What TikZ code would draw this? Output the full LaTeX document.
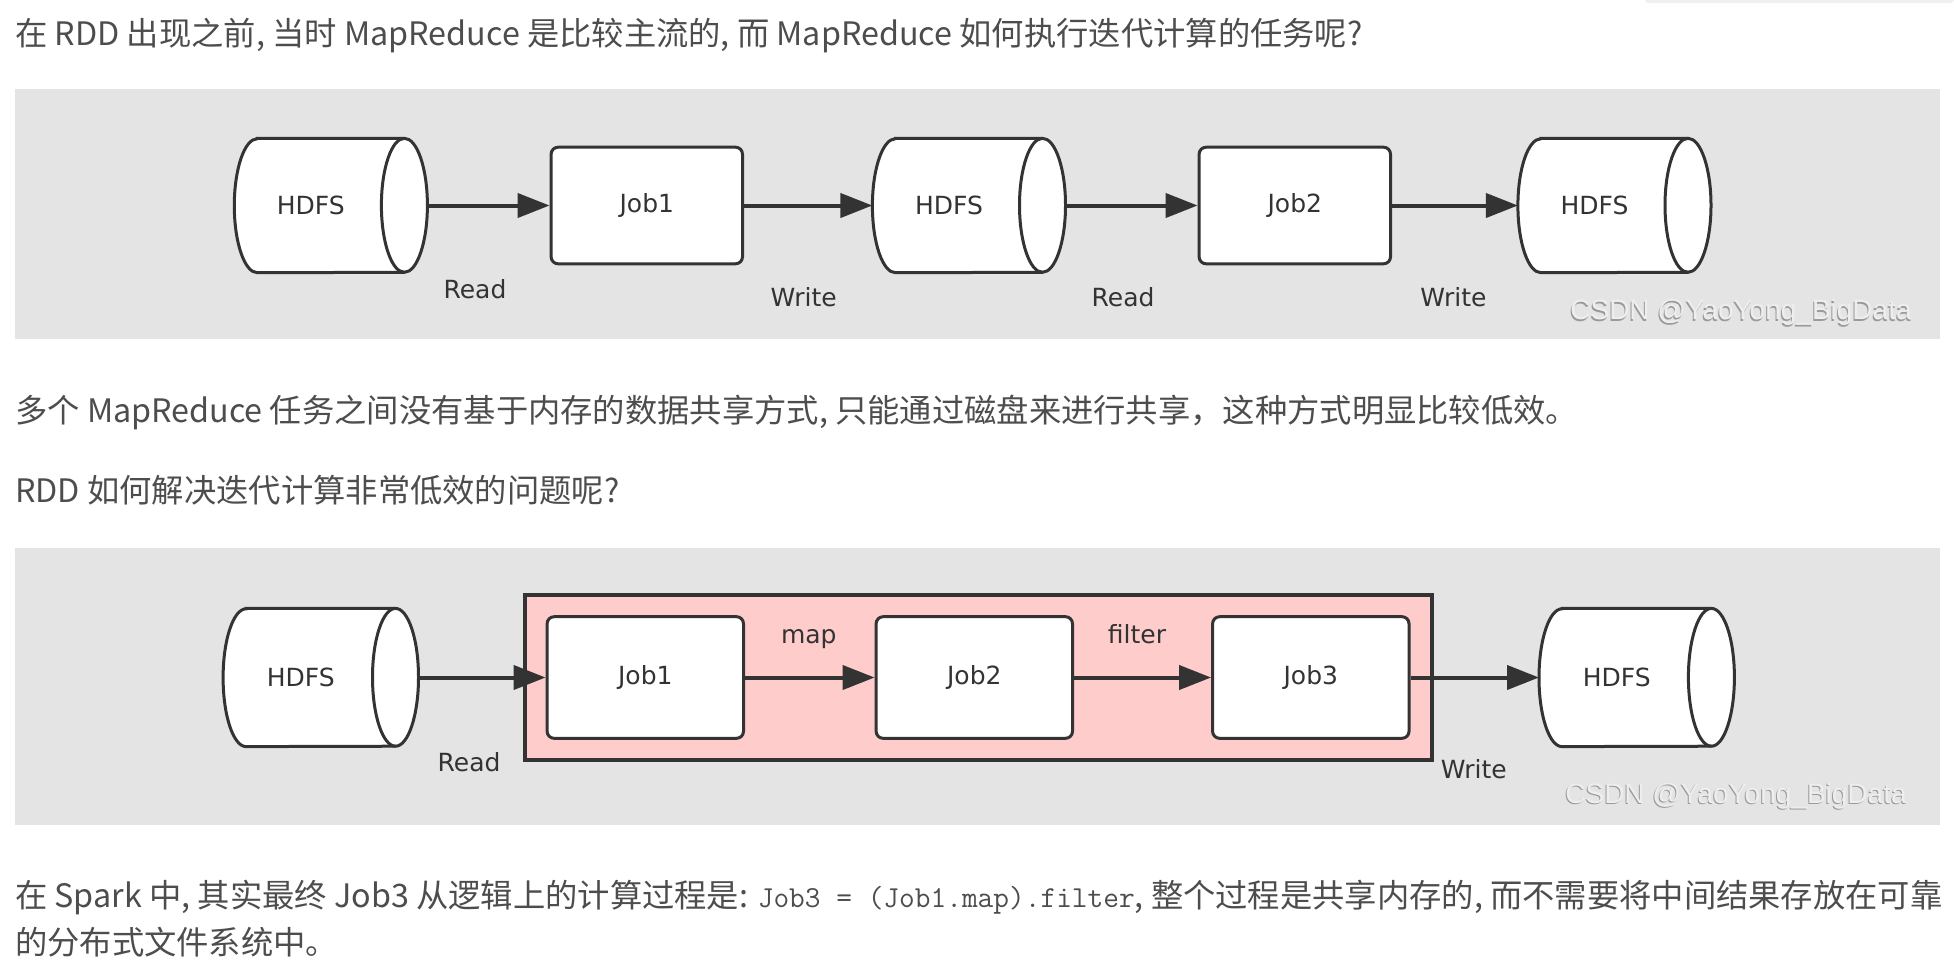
\documentclass[tikz,border=0pt]{standalone}
\usepackage{fontspec}
\setmainfont{Noto Sans CJK SC}
\newfontfamily\diagfont{DejaVu Sans}
\newfontfamily\markfont{Liberation Sans}
\usetikzlibrary{calc,positioning,backgrounds,fit,arrows.meta}

\definecolor{panelgray}{HTML}{E4E4E4}
\definecolor{pinkfill}{HTML}{FFCCCC}
\definecolor{inkgray}{HTML}{333333}
\definecolor{bodytext}{HTML}{4D4D4D}
\definecolor{marklight}{HTML}{EEEEEE}
\definecolor{markdark}{HTML}{9A9A9A}

\begin{document}
\begin{tikzpicture}[
      x=1pt, y=-1pt,
      >={Triangle[length=32pt,width=24pt]},
      bodyline/.style={anchor=base west, inner sep=0pt, text=bodytext,
        font=\fontsize{32.3}{40}\selectfont},
      disk/.style={rectangle, inner sep=0pt, text=inkgray,
        font=\diagfont\fontsize{25}{30}\selectfont,
        minimum width=192.7pt, minimum height=134pt,
        execute at end node={\hspace*{40pt}}},
      diskline/.style={draw=inkgray, line width=3pt},
      job/.style={rectangle, rounded corners=7pt, draw=inkgray, line width=3pt, fill=white,
        text=inkgray, font=\diagfont\fontsize{25}{30}\selectfont,
        minimum width=191.4pt, minimum height=116.6pt},
      flow/.style={draw=inkgray, line width=4pt},
      lbl/.style={inner sep=0pt, text=inkgray, text height=18pt, text depth=0pt,
        font=\diagfont\fontsize{25}{30}\selectfont},
      watermark/.style={anchor=base, inner sep=0pt, font=\markfont\fontsize{28}{34}\selectfont},
      panel/.style={fill=panelgray}
    ]
      \useasboundingbox (0,0) rectangle (1954,978);
      \fill[black!6, rounded corners=3pt] (1645,-6) rectangle (1954,3);

      % text above and between the figures
      \node[bodyline] (lineA) at (15,45) {在 RDD 出现之前, 当时 MapReduce 是比较主流的, 而 MapReduce 如何执行迭代计算的任务呢?};
      \node[bodyline] (lineB) at (15,422.5) {多个 MapReduce 任务之间没有基于内存的数据共享方式, 只能通过磁盘来进行共享，这种方式明显比较低效。};
      \node[bodyline] (lineC) at (15,502.5) {RDD 如何解决迭代计算非常低效的问题呢?};
      \node[bodyline] (lineD) at (15,907.5) {在 Spark 中, 其实最终 Job3 从逻辑上的计算过程是: {\ttfamily\fontsize{30.5}{40}\selectfont Job3 = (Job1.map).filter}, 整个过程是共享内存的, 而不需要将中间结果存放在可靠};
      \node[bodyline] (lineE) at (15,954.5) {的分布式文件系统中。};

      % MapReduce
      \node[disk, anchor=west] (hdfsA) at (234.3,205.5) {HDFS};
      \node[job, right=122.2pt of hdfsA] (jobA) {Job1}
        edge [<-, flow] node[lbl, xshift=-13.5pt, yshift=-83.5pt] {Read} (hdfsA);
      \node[disk, right=128.4pt of jobA] (hdfsB) {HDFS}
        edge [<-, flow] node[lbl, xshift=-4.5pt, yshift=-91.5pt] {Write} (jobA);
      \node[job, right=132.1pt of hdfsB] (jobB) {Job2}
        edge [<-, flow] node[lbl, xshift=-8.5pt, yshift=-91.5pt] {Read} (hdfsB);
      \node[disk, right=125.9pt of jobB] (hdfsC) {HDFS}
        edge [<-, flow] node[lbl, xshift=-1.5pt, yshift=-91.5pt] {Write} (jobB);

      % RDD
      \begin{scope}[disk/.append style={minimum width=195pt, minimum height=137.8pt},
                    job/.append style={minimum width=196.4pt, minimum height=121.6pt}]
        \node[disk, anchor=west] (hdfsD) at (223.1,677.5) {HDFS};
        \node[job, right=127.1pt of hdfsD] (jobC) {Job1}
          edge [<-, flow] node[lbl, xshift=-13pt, yshift=-85pt] {Read} (hdfsD);
        \node[job, right=129.6pt of jobC] (jobD) {Job2}
          edge [<-, flow] node[lbl, xshift=-1pt, yshift=43pt] {map} (jobC);
        \node[job, right=137.1pt of jobD] (jobE) {Job3}
          edge [<-, flow] node[lbl, xshift=-5.5pt, yshift=43pt] {filter} (jobD);
        \node[disk, right=128.5pt of jobE] (hdfsE) {HDFS}
          edge [<-, flow] node[lbl, xshift=-1pt, yshift=-92pt] {Write} (jobE);
      \end{scope}

      \foreach \wx/\wy [count=\i] in {1741/319.5, 1736/803} {
        \node[watermark, text=markdark] (shadow\i) at (\wx-1,\wy+1.5) {CSDN @YaoYong\_BigData};
        \node[watermark, text=marklight] (mark\i) at (\wx,\wy) {CSDN @YaoYong\_BigData};
      }

      \begin{scope}[on background layer]
        \fill[panel] (15,88.5) rectangle (1940,339);
        \fill[panel] (15,548) rectangle (1940,825);
        \node[draw=inkgray, line width=4pt, fill=pinkfill, inner xsep=21pt, inner ysep=20pt,
          fit=(jobC) (jobE)] (memory) {};
        % the disks: body, then the near end
        \foreach \d/\ry in {hdfsA/67, hdfsB/67, hdfsC/67, hdfsD/68.9, hdfsE/68.9} {
          \draw[diskline, fill=white] ($(\d.north west)+(23,0)$) -- ($(\d.north east)+(-23,0)$)
              arc[start angle=90, end angle=-90, x radius=23pt, y radius=\ry pt]
              -- ($(\d.south west)+(23,0)$)
              arc[start angle=270, end angle=90, x radius=23pt, y radius=\ry pt] -- cycle;
          \draw[diskline] ($(\d.north east)+(-23,0)$)
              arc[start angle=90, end angle=270, x radius=23pt, y radius=\ry pt];
        }
      \end{scope}
\end{tikzpicture}
\end{document}
